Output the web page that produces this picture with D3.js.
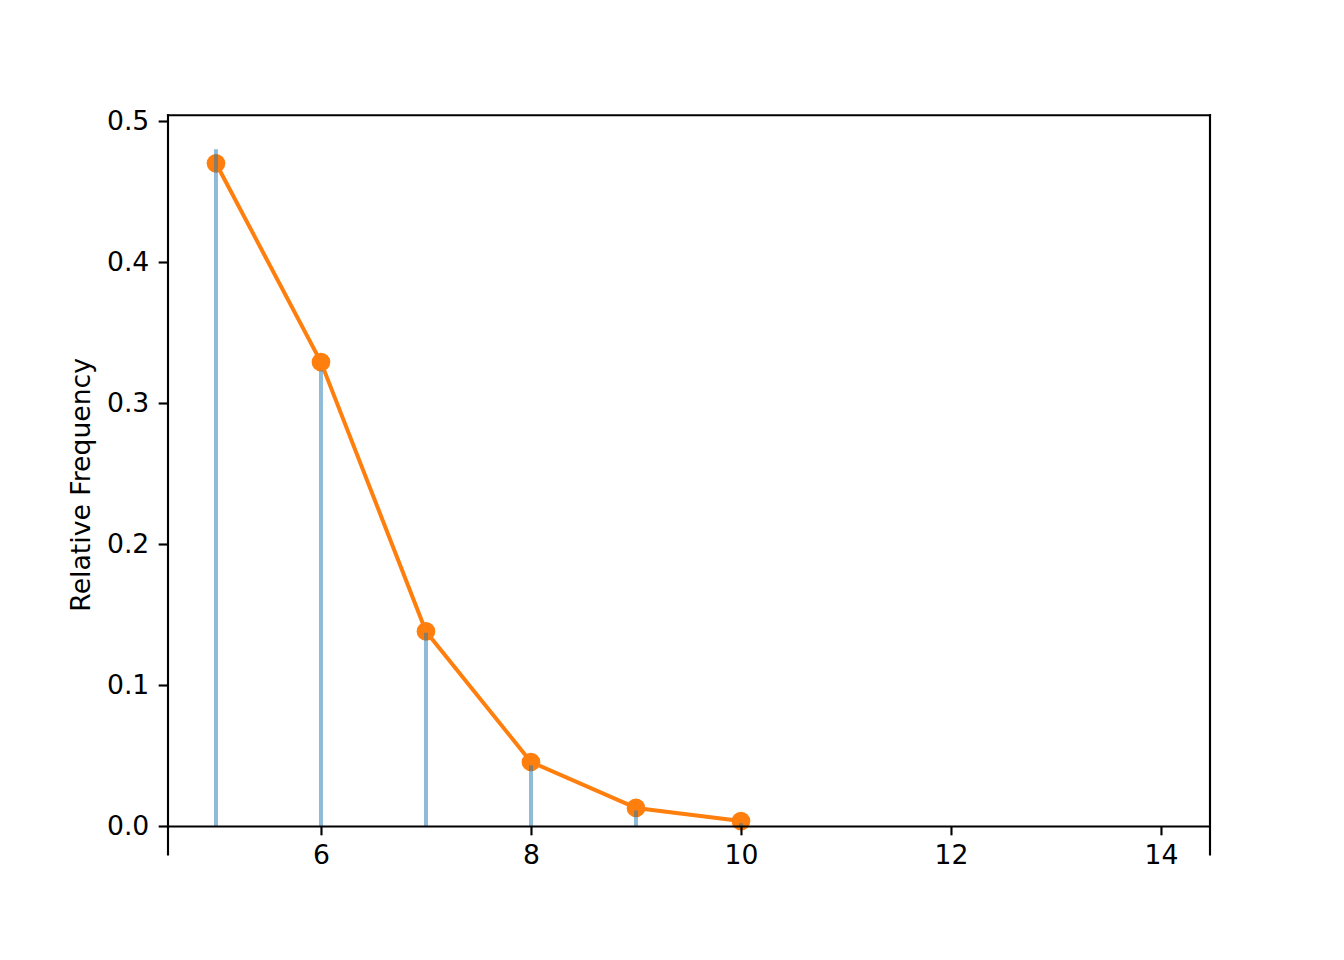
<!DOCTYPE html>
<html>
<head>
<meta charset="utf-8" />
<script src="https://d3js.org/d3.v7.min.js"></script>
<style>
  body { margin: 0; background: #fff; }
  svg text { font-family: "DejaVu Sans", sans-serif; fill: #000; }
</style>
</head>
<body>
<svg width="1344" height="960"></svg>
<script>
// values
var xValues = [5, 6, 7, 8, 9, 10];
var barValues = [0.480, 0.323, 0.137, 0.043, 0.011, 0.002];   // blue vertical lines
var lineValues = [0.470, 0.329, 0.138, 0.0454, 0.0128, 0.0035]; // orange line + markers
var xTicks = [6, 8, 10, 12, 14];
var yTicks = [0.0, 0.1, 0.2, 0.3, 0.4, 0.5];

var svg = d3.select("svg");
// axes box (matplotlib subplot params), figure at 192 dpi
var boxLeft = 168, boxRight = 1210, boxTop = 115.2, boxBottom = 854.4;
var pt = 192 / 72;

var x = d3.scaleLinear().domain([4.543, 14.467]).range([boxLeft, boxRight]);
var y = d3.scaleLinear().domain([0, 0.5]).range([826, 121]);
var yLo = y.invert(boxBottom), yHi = y.invert(boxTop);
y.domain([yLo, yHi]).range([boxBottom, boxTop]);

var fontSize = 10 * pt;

// orange line with markers
var line = d3.line()
  .x(function (d, i) { return x(xValues[i]); })
  .y(function (d) { return y(d); });

svg.append("path")
  .datum(lineValues)
  .attr("d", line)
  .attr("fill", "none")
  .attr("stroke", "#ff7f0e")
  .attr("stroke-width", 1.5 * pt)
  .attr("stroke-linejoin", "round");

svg.append("g").selectAll("circle")
  .data(lineValues)
  .enter()
  .append("circle")
  .attr("cx", function (d, i) { return x(xValues[i]); })
  .attr("cy", function (d) { return y(d); })
  .attr("r", 3.5 * pt)
  .attr("fill", "#ff7f0e");

// blue vlines, drawn on top, semi transparent
svg.append("g").selectAll("line")
  .data(barValues)
  .enter()
  .append("line")
  .attr("x1", function (d, i) { return x(xValues[i]); })
  .attr("x2", function (d, i) { return x(xValues[i]); })
  .attr("y1", y(0))
  .attr("y2", function (d) { return y(d); })
  .attr("stroke", "#1f77b4")
  .attr("stroke-opacity", 0.5)
  .attr("stroke-width", 1.5 * pt);

// spines: left, right, top; bottom spine sits at y = 0
var spine = svg.append("g")
  .attr("stroke", "#000")
  .attr("stroke-width", 0.8 * pt)
  .attr("stroke-linecap", "square");
spine.append("line").attr("x1", boxLeft).attr("x2", boxLeft).attr("y1", boxTop).attr("y2", boxBottom);
spine.append("line").attr("x1", boxRight).attr("x2", boxRight).attr("y1", boxTop).attr("y2", boxBottom);
spine.append("line").attr("x1", boxLeft).attr("x2", boxRight).attr("y1", boxTop).attr("y2", boxTop);

// x axis at zero
var xAxis = svg.append("g")
  .attr("transform", "translate(0," + y(0) + ")")
  .call(d3.axisBottom(x).tickValues(xTicks).tickFormat(d3.format("d"))
    .tickSizeInner(3.5 * pt).tickSizeOuter(0).tickPadding(3.5 * pt));
xAxis.select(".domain").attr("stroke-width", 0.8 * pt);
xAxis.selectAll(".tick line").attr("stroke-width", 0.8 * pt);
xAxis.selectAll("text").attr("font-size", fontSize).attr("font-family", "DejaVu Sans");

// y axis
var yAxis = svg.append("g")
  .attr("transform", "translate(" + boxLeft + ",0)")
  .call(d3.axisLeft(y).tickValues(yTicks).tickFormat(d3.format(".1f"))
    .tickSizeInner(3.5 * pt).tickSizeOuter(0).tickPadding(3.5 * pt));
yAxis.select(".domain").remove();
yAxis.selectAll(".tick line").attr("stroke-width", 0.8 * pt);
yAxis.selectAll("text").attr("font-size", fontSize).attr("font-family", "DejaVu Sans");

// y label
svg.append("text")
  .attr("transform", "translate(90," + (boxTop + boxBottom) / 2 + ") rotate(-90)")
  .attr("text-anchor", "middle")
  .attr("font-size", fontSize)
  .text("Relative Frequency");
</script>
</body>
</html>
